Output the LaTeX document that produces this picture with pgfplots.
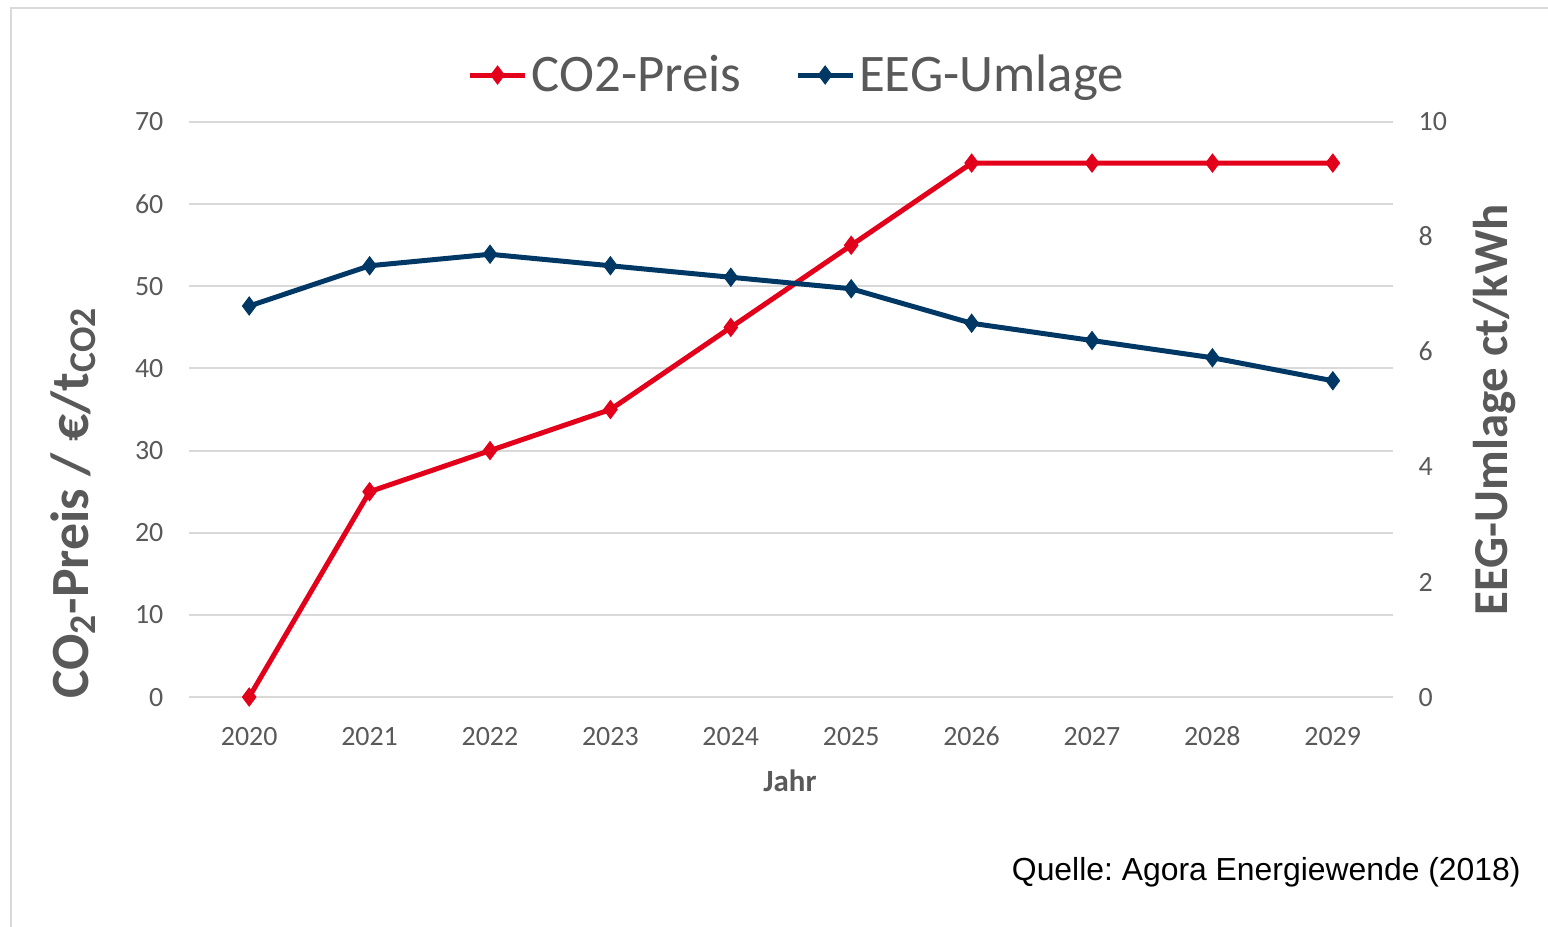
\documentclass[border=0pt]{standalone}
\usepackage{pgfplots}
\pgfplotsset{compat=1.18}
\usepackage{fontspec}
\setmainfont{Carlito}
\newfontfamily\arial{Liberation Sans}
\definecolor{co2red}{RGB}{226,0,26}
\definecolor{eegblue}{RGB}{0,56,101}
\definecolor{txtgray}{RGB}{89,89,89}
\definecolor{gridgray}{RGB}{217,217,217}
\frenchspacing

\pgfplotsset{
  common/.style={
    at={(94.5bp,-348.5bp)}, anchor=south west,
    scale only axis, width=602bp, height=287.5bp,
    xmin=2019.5, xmax=2029.5,
    axis line style={draw=none}, major tick length=0pt,
    ticklabel style={font=\fontsize{14}{16}\selectfont, text=txtgray},
    typeset ticklabels with strut,
    /pgf/number format/assume math mode=true,
    /pgf/number format/1000 sep={},
    clip=false,
  },
  ser/.style={line width=2.5bp, mark=diamond*, mark size=4.5bp, mark options={solid, line width=0.5bp}},
}

\begin{document}
\begin{tikzpicture}
\begin{scope}[x=0.5bp,y=-0.5bp]
\path[use as bounding box] (0,0) rectangle (1548,926);
\draw[gridgray, line width=1bp] (11,935) -- (11,7.5) -- (1555,7.5);
\end{scope}

\begin{axis}[common,
  ymin=0, ymax=70,
  xtick={2020,...,2029}, ytick={0,10,...,70},
  axis y line*=left, axis x line*=bottom,
  ymajorgrids, grid style={gridgray, line width=1bp},
  yticklabel style={xshift=-9.3bp, yshift=-1.3bp},
  xticklabel style={yshift=-9.5bp},
]
\addplot[co2red, ser] coordinates {
(2020,0) (2021,25) (2022,30) (2023,35) (2024,45)
(2025,55) (2026,65) (2027,65) (2028,65) (2029,65)};
\end{axis}

\begin{axis}[common,
  ymin=0, ymax=10,
  ytick={0,2,...,10},
  axis y line*=right, axis x line=none,
  yticklabel style={xshift=9.3bp, yshift=-1.3bp},
  legend style={at={(rel axis cs:0.5055,1.0817)}, anchor=center, draw=none, fill=none,
    legend columns=2, font=\fontsize{26.5}{30}\selectfont, text=txtgray,
    /tikz/every even column/.append style={column sep=25bp}},
  legend image code/.code={\draw[mark repeat=2,mark phase=2,#1] plot coordinates {(0bp,0bp)(13.75bp,0bp)(27.5bp,0bp)};},
]
\addlegendimage{co2red, ser}
\addlegendentry{CO2-Preis}
\addplot[eegblue, ser] coordinates {
(2020,6.8) (2021,7.5) (2022,7.7) (2023,7.5) (2024,7.3)
(2025,7.1) (2026,6.5) (2027,6.2) (2028,5.9) (2029,5.5)};
\addlegendentry{EEG-Umlage}
\end{axis}

\begin{scope}[x=0.5bp,y=-0.5bp]
\node[rotate=90, anchor=base, inner sep=0pt, font=\bfseries\fontsize{27}{30}\selectfont, text=txtgray] at (88,503) {CO\textsubscript{2}-Preis / €/t\textsubscript{CO2}};
\node[rotate=90, anchor=base, inner sep=0pt, font=\bfseries\fontsize{24.5}{28}\selectfont, text=txtgray] at (1507,410) {EEG-Umlage ct/kWh};
\node[anchor=center, inner sep=0pt, font=\bfseries\fontsize{15.5}{18}\selectfont, text=txtgray] at (790,781) {Jahr};
\node[anchor=base east, inner sep=0pt, font=\arial\fontsize{16}{19}\selectfont, text=black] at (1521,880) {Quelle: Agora Energiewende (2018)};
\end{scope}
\end{tikzpicture}
\end{document}
